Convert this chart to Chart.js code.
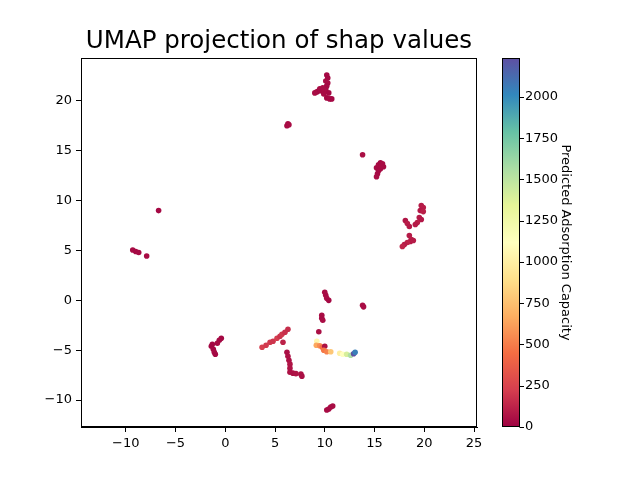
<!DOCTYPE html>
<html>
<head>
<meta charset="utf-8">
<script src="https://cdn.jsdelivr.net/npm/chart.js@4"></script>
<style>
  html, body { margin: 0; padding: 0; background: #fff; }
  #wrap { width: 640px; height: 480px; }
</style>
</head>
<body>
<div id="wrap"><canvas id="umapChart" width="640" height="480"></canvas></div>
<script>
// UMAP coordinates of the shap values, with predicted adsorption capacity
var umapX = [
  10.2, 10.3, 10.1, 10.3, 10.2, 10.1, 10.0, 9.7, 9.4, 9.2, 9.0, 9.5, 9.8, 10.4, 10.2, 10.5, 10.7, 9.9,
  6.2, 6.3, 6.4,
  13.8,
  15.2, 15.4, 15.6, 15.8, 15.9, 15.6, 15.4, 15.3, 15.2, 15.7,
  19.7, 19.9, 19.6, 19.9, 19.5, 19.7, 19.3, 19.1, 18.1, 18.3, 18.5, 18.5, 18.7, 18.6, 18.3, 18.0, 17.8, 18.9,
  -6.7, -9.3, -9.0, -8.7, -7.9,
  10.0, 10.1, 10.2, 10.4, 13.8, 13.9, 9.7, 9.7, 9.8, 9.4,
  -0.4, -0.6, -0.8, -1.3, -1.4, -1.2, -1.1, -1.0,
  3.7, 4.1, 4.5, 4.8, 5.2, 5.5, 5.7, 6.0, 6.3, 5.8,
  6.2, 6.3, 6.4, 6.5, 6.5, 6.5, 6.8, 7.1, 7.6, 7.7,
  10.2, 10.4, 10.6, 10.8,
  9.2, 9.15, 9.5, 9.75, 10.0, 9.9, 10.2, 10.6, 11.5, 11.8, 12.2, 12.6, 12.9, 13.05
];
var umapY = [
  22.6, 22.3, 22.0, 21.8, 21.5, 21.2, 21.0, 21.0, 21.0, 20.9, 20.8, 21.2, 21.3, 20.8, 20.3, 20.2, 20.2, 20.7,
  17.5, 17.7, 17.6,
  14.6,
  13.3, 13.6, 13.8, 13.7, 13.4, 13.2, 13.0, 12.7, 12.4, 13.5,
  9.5, 9.3, 9.0, 8.9, 8.3, 8.1, 7.8, 7.6, 8.0, 7.7, 7.4, 6.5, 6.1, 5.9, 5.8, 5.6, 5.4, 6.0,
  9.0, 5.05, 4.9, 4.8, 4.45,
  0.8, 0.5, 0.2, 0.0, -0.5, -0.65, -1.5, -1.8, -2.0, -3.15,
  -3.8, -4.0, -4.3, -4.4, -4.6, -4.9, -5.2, -5.4,
  -4.7, -4.5, -4.2, -4.1, -3.8, -3.6, -3.4, -3.2, -2.9, -4.2,
  -5.2, -5.6, -6.0, -6.4, -6.8, -7.2, -7.3, -7.35, -7.4, -7.6,
  -11.0, -10.9, -10.7, -10.6,
  -4.1, -4.5, -4.55, -4.7, -4.6, -5.0, -5.15, -5.15, -5.3, -5.4, -5.4, -5.5, -5.35, -5.2
];
var predictedCapacity = [
  30, 25, 35, 40, 30, 28, 45, 50, 35, 30, 40, 38, 42, 30, 25, 33, 27, 36,
  40, 35, 45,
  50,
  35, 40, 30, 45, 38, 42, 36, 30, 44, 39,
  90, 100, 85, 110, 95, 80, 105, 90, 75, 100, 85, 95, 110, 90, 120, 100, 130, 95,
  30, 35, 28, 32, 40,
  40, 35, 45, 30, 50, 45, 40, 35, 45, 50,
  25, 30, 35, 28, 22, 30, 35, 25,
  230, 210, 200, 190, 220, 180, 200, 170, 160, 120,
  50, 60, 55, 70, 65, 60, 55, 70, 60, 50,
  40, 35, 45, 40,
  1050, 650, 550, 450, 60, 480, 520, 780, 1000, 1120, 1400, 1550, 2236, 2050
];
var cbTicks = [0, 250, 500, 750, 1000, 1250, 1500, 1750, 2000];
var xTicks = [-10, -5, 0, 5, 10, 15, 20, 25];
var yTicks = [-10, -5, 0, 5, 10, 15, 20];

var spectral = ['#9e0142', '#d53e4f', '#f46d43', '#fdae61', '#fee08b', '#ffffbf',
  '#e6f598', '#abdda4', '#66c2a5', '#3288bd', '#5e4fa2'];
var vmax = Math.max.apply(null, predictedCapacity);

function hexToRgb(h) {
  return [parseInt(h.substr(1, 2), 16), parseInt(h.substr(3, 2), 16), parseInt(h.substr(5, 2), 16)];
}
function spectralColor(t) {
  t = Math.min(1, Math.max(0, t)) * (spectral.length - 1);
  var i = Math.min(Math.floor(t), spectral.length - 2);
  var f = t - i;
  var a = hexToRgb(spectral[i]), b = hexToRgb(spectral[i + 1]);
  return 'rgb(' + Math.round(a[0] + (b[0] - a[0]) * f) + ',' +
    Math.round(a[1] + (b[1] - a[1]) * f) + ',' + Math.round(a[2] + (b[2] - a[2]) * f) + ')';
}

var points = umapX.map(function (x, i) { return { x: x, y: umapY[i] }; });
var FONT = 'DejaVu Sans';
var minus = function (v) { return String(v).replace('-', '\u2212'); };

// frame, title and colour bar
var extras = {
  id: 'extras',
  afterDraw: function (chart) {
    var c = chart.ctx, a = chart.chartArea;
    c.save();
    c.strokeStyle = '#000';
    c.lineWidth = 1;
    c.strokeRect(a.left + 0.5, a.top + 0.5, a.right - a.left - 1, a.bottom - a.top - 1);

    c.fillStyle = '#000';
    c.font = '24.5px "' + FONT + '"';
    c.textAlign = 'center';
    c.textBaseline = 'alphabetic';
    c.fillText('UMAP projection of shap values', (a.left + a.right) / 2, 48);

    var cb = chart.scales.cb;
    var top = cb.getPixelForValue(vmax), bot = cb.getPixelForValue(0);
    var bx = 502, bw = 17;
    var g = c.createLinearGradient(0, bot, 0, top);
    spectral.forEach(function (col, i) { g.addColorStop(i / (spectral.length - 1), col); });
    c.fillStyle = g;
    c.fillRect(bx, top, bw, bot - top);
    c.strokeRect(bx + 0.5, top + 0.5, bw, bot - top - 1);
    cbTicks.forEach(function (v) {
      var y = Math.round(cb.getPixelForValue(v)) + 0.5;
      c.beginPath();
      c.moveTo(bx + bw + 0.5, y);
      c.lineTo(bx + bw + 5, y);
      c.stroke();
    });
    c.restore();
  }
};

new Chart(document.getElementById('umapChart'), {
  type: 'scatter',
  data: {
    datasets: [{
      data: points,
      pointRadius: 2.8,
      pointHoverRadius: 2.8,
      borderWidth: 0,
      backgroundColor: function (ctx) {
        return spectralColor(predictedCapacity[ctx.dataIndex] / vmax);
      }
    }]
  },
  options: {
    responsive: false,
    animation: false,
    layout: { padding: { top: 58, right: 60, left: 0, bottom: 0 } },
    plugins: { legend: { display: false }, tooltip: { enabled: false }, title: { display: false } },
    scales: {
      x: {
        type: 'linear', min: -14.5, max: 25.3,
        afterBuildTicks: function (s) { s.ticks = xTicks.map(function (v) { return { value: v }; }); },
        afterFit: function (s) { s.height = 53; s.paddingLeft = 0; s.paddingRight = 0; },
        grid: { drawOnChartArea: false, drawTicks: true, tickLength: 5, color: '#000' },
        border: { color: '#000' },
        ticks: { color: '#000', padding: 4, maxRotation: 0, font: { family: FONT, size: 13 }, callback: minus }
      },
      y: {
        type: 'linear', min: -12.7, max: 24.3,
        afterBuildTicks: function (s) { s.ticks = yTicks.map(function (v) { return { value: v }; }); },
        afterFit: function (s) { s.width = 81; s.paddingTop = 0; s.paddingBottom = 0; },
        grid: { drawOnChartArea: false, drawTicks: true, tickLength: 5, color: '#000' },
        border: { color: '#000' },
        ticks: { color: '#000', padding: 4, font: { family: FONT, size: 13 }, callback: minus }
      },
      cb: {
        type: 'linear', position: 'right', axis: 'y', min: 0, max: vmax,
        afterBuildTicks: function (s) { s.ticks = cbTicks.map(function (v) { return { value: v }; }); },
        afterFit: function (s) { s.width = 103; s.paddingTop = 0; s.paddingBottom = 0; },
        grid: { display: false, drawTicks: false },
        border: { display: false },
        ticks: { color: '#000', padding: 48, font: { family: FONT, size: 13 }, callback: function (v) { return String(v); } },
        title: {
          display: true, text: 'Predicted Adsorption Capacity', color: '#000',
          font: { family: FONT, size: 13 }, padding: { top: 7, bottom: 0 }
        }
      }
    }
  },
  plugins: [extras]
});
</script>
</body>
</html>
